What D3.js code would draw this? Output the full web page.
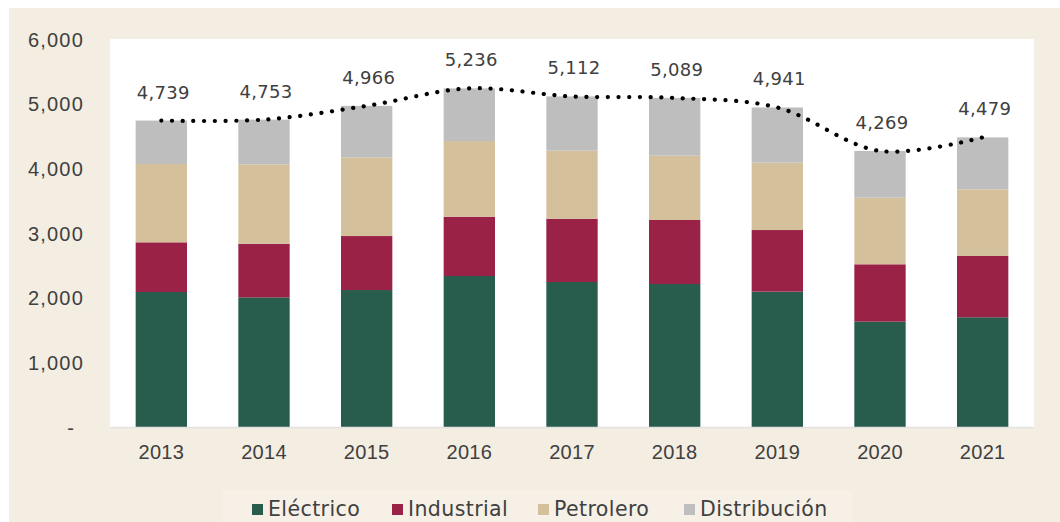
<!DOCTYPE html>
<html lang="es">
<head>
<meta charset="utf-8">
<title>Stacked bars</title>
<script src="https://d3js.org/d3.v7.min.js"></script>
<style>
  body { margin: 0; background: #fff; }
  svg { display: block; font-family: "DejaVu Sans", sans-serif; }
</style>
</head>
<body>
<div id="chart"></div>
<script>
// data
var years = ["2013", "2014", "2015", "2016", "2017", "2018", "2019", "2020", "2021"];
var electrico = [2088, 2005, 2118, 2335, 2242, 2211, 2093, 1629, 1697];
var industrial = [768, 829, 835, 917, 979, 990, 953, 887, 948];
var petrolero = [1211, 1228, 1217, 1170, 1052, 995, 1041, 1030, 1031];
var distribucion = [672, 691, 796, 814, 839, 893, 854, 723, 803];
var totals = [4739, 4753, 4966, 5236, 5112, 5089, 4941, 4269, 4479];
var seriesNames = ["Eléctrico", "Industrial", "Petrolero", "Distribución"];
var seriesColors = ["#285C4D", "#9B2247", "#D4C19C", "#BEBEBE"];
var yTicks = [0, 1000, 2000, 3000, 4000, 5000, 6000];

var W = 1060, H = 522;
var plot = {left: 110, right: 1034, top: 39, bottom: 427};

var svg = d3.select("#chart").append("svg").attr("width", W).attr("height", H);

// beige frame
svg.append("rect").attr("x", 9).attr("y", 8).attr("width", W - 9).attr("height", H - 8).attr("fill", "#F4EDE2");
svg.append("rect").attr("x", 222).attr("y", 490).attr("width", 630).attr("height", 32).attr("fill", "#F6F0E7");
// white plot area
svg.append("rect").attr("x", plot.left).attr("y", plot.top)
  .attr("width", plot.right - plot.left).attr("height", plot.bottom - plot.top).attr("fill", "#fff");

var x = d3.scaleBand().domain(years).range([plot.left, plot.right]).paddingInner(0.5).paddingOuter(0.25);
var y = d3.scaleLinear().domain([0, 6000]).range([plot.bottom, plot.top]);

var rows = years.map(function(yr, i) {
  return {year: yr, "Eléctrico": electrico[i], "Industrial": industrial[i], "Petrolero": petrolero[i], "Distribución": distribucion[i]};
});
var stacked = d3.stack().keys(seriesNames)(rows);

svg.append("g").selectAll("g").data(stacked).join("g")
  .attr("fill", function(d, i) { return seriesColors[i]; })
  .selectAll("rect").data(function(d) { return d; }).join("rect")
  .attr("x", function(d) { return x(d.data.year); })
  .attr("width", x.bandwidth())
  .attr("y", function(d) { return y(d[1]); })
  .attr("height", function(d) { return y(d[0]) - y(d[1]); });

// baseline
svg.append("line").attr("x1", plot.left).attr("x2", plot.right)
  .attr("y1", plot.bottom + 0.5).attr("y2", plot.bottom + 0.5).attr("stroke", "#E2E2E2").attr("stroke-width", 1.5);

// y axis labels
var fmt = d3.format(",");
var yAxis = svg.append("g").attr("transform", "translate(84,0)")
  .call(d3.axisLeft(y).tickValues(yTicks).tickSize(0).tickPadding(0)
    .tickFormat(function(d) { return d === 0 ? "-" : fmt(d); }));
yAxis.select(".domain").remove();
yAxis.selectAll("text").attr("fill", "#404040").style("font-size", "20px")
  .style("letter-spacing", "1.2px").attr("dy", "0.35em");
yAxis.selectAll("text").filter(function(d) { return d === 0; }).attr("x", -9);

// x axis labels
var xAxis = svg.append("g").attr("transform", "translate(0," + plot.bottom + ")")
  .call(d3.axisBottom(x).tickSize(0).tickPadding(18));
xAxis.select(".domain").remove();
xAxis.selectAll("text").attr("fill", "#404040").style("font-size", "20px").style("letter-spacing", "0.3px");

// dotted total line
var line = d3.line()
  .x(function(d, i) { return x(years[i]) + x.bandwidth() / 2; })
  .y(function(d) { return y(d); })
  .curve(d3.curveCatmullRom.alpha(0.5));
svg.append("path").datum(totals).attr("d", line)
  .attr("fill", "none").attr("stroke", "#000").attr("stroke-width", 4.2)
  .attr("stroke-linecap", "round").attr("stroke-dasharray", "0.1 10.6");

// total labels
svg.append("g").selectAll("text").data(totals).join("text")
  .attr("x", function(d, i) { return x(years[i]) + x.bandwidth() / 2 + 2; })
  .attr("y", function(d) { return y(d) - 22; })
  .attr("text-anchor", "middle").attr("fill", "#404040").style("font-size", "18px")
  .style("letter-spacing", "0.3px")
  .text(function(d) { return fmt(d); });

// legend
var legendX = [252, 392, 538, 684];
var lg = svg.append("g").selectAll("g").data(seriesNames).join("g")
  .attr("transform", function(d, i) { return "translate(" + legendX[i] + ",509)"; });
lg.append("rect").attr("x", 0).attr("y", -5).attr("width", 11).attr("height", 11)
  .attr("fill", function(d, i) { return seriesColors[i]; });
lg.append("text").attr("x", 16).attr("dy", "0.35em").attr("fill", "#404040")
  .style("font-size", "20.5px").style("letter-spacing", "0.4px").text(function(d) { return d; });
</script>
</body>
</html>
